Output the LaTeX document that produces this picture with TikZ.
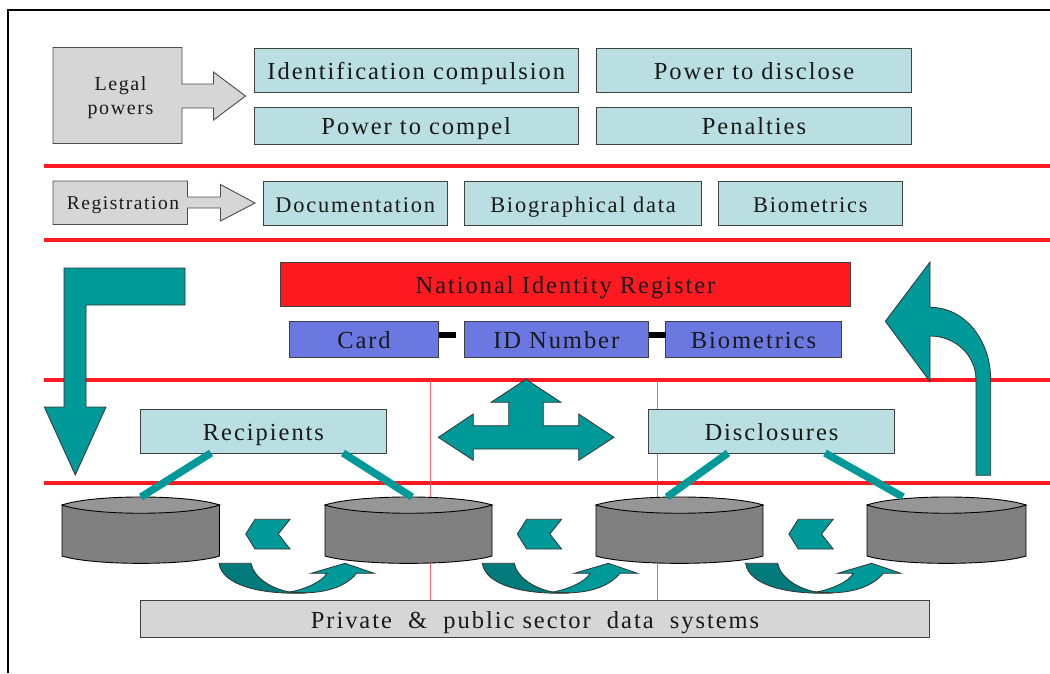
\documentclass[tikz,border=0pt]{standalone}
\usepackage{fontspec}
\setmainfont[LetterSpace=8]{Liberation Serif}
\definecolor{boxteal}{HTML}{B9DFE3}
\definecolor{arrowteal}{HTML}{009999}
\definecolor{darkteal}{HTML}{007A7A}
\definecolor{paleGray}{HTML}{D6D6D6}
\definecolor{regRed}{HTML}{FF1A22}
\definecolor{cardBlue}{HTML}{6B78E2}
\tikzset{
  lbl/.style={draw=black!75,line width=0.9pt,inner sep=0pt,outer sep=0pt,font=\fontsize{24.5}{24.5}\selectfont,
    text=black!90,text height=18pt,text depth=0pt},
  tealbox/.style={lbl,fill=boxteal},
  cardbox/.style={lbl,fill=cardBlue},
  graybox/.style={lbl,fill=paleGray},
  redrule/.style={regRed,line width=3.6pt},
  thinrule/.style={regRed!70,line width=0.9pt},
  tealshape/.style={fill=arrowteal,draw=black!80,line width=0.8pt,line join=miter},
  grayshape/.style={fill=paleGray,draw=black!70,line width=0.9pt},
  spoke/.style={arrowteal,line width=7.5pt},
  link/.style={black,line width=5.5pt},
}
\newcommand{\tbox}[7]{\node[#1,minimum width=#5pt-#3pt,minimum height=#6pt-#4pt] (#2) at ({(#3+#5)/2},{(#4+#6)/2}) {#7};}
\begin{document}
\begin{tikzpicture}[x=1pt,y=-1pt]
  \useasboundingbox (0,0) rectangle (1050,673);
  \draw[black,line width=2pt] (8,673) -- (8,10) -- (1050,10);

  \foreach \y in {166,240,380,483} {
    \draw[redrule] (44,\y) -- (1050,\y);
  }
  \foreach \x in {430,657.5} {
    \draw[thinrule] (\x,380) -- (\x,600);
  }

  % legal powers
  \draw[grayshape] (53,47.5) -- (182,47.5) -- (182,84) -- (213.5,84) -- (213.5,72) -- (245.5,96)
    -- (213.5,120) -- (213.5,108) -- (182,108) -- (182,143.5) -- (53,143.5) -- cycle;
  \node[font=\fontsize{20}{24}\selectfont,align=center,text=black!90] (legal) at (120.5,98) {Legal\\powers};
  \tbox{tealbox}{compulsion}{254}{48}{578.5}{92.5}{Identification compulsion}
  \tbox{tealbox}{compel}{254}{107}{578.5}{144}{Power to compel}
  \tbox{tealbox}{disclose}{596.5}{48}{911.5}{92.5}{Power to disclose}
  \tbox{tealbox}{penalties}{596.5}{107}{911.5}{144}{Penalties}

  % registration
  \draw[grayshape] (53,181) -- (187.5,181) -- (187.5,197) -- (220.5,197) -- (220.5,184.5) -- (255,203)
    -- (220.5,221) -- (220.5,208) -- (187.5,208) -- (187.5,224.5) -- (53,224.5) -- cycle;
  \node[font=\fontsize{19.5}{20}\selectfont,text=black!90] (registration) at (123,205.5) {Registration};
  \tbox{tealbox,font=\fontsize{22.4}{22.4}\selectfont}{documentation}{263}{181}{447.5}{225}{Documentation}
  \tbox{tealbox,font=\fontsize{22.4}{22.4}\selectfont}{biodata}{464.5}{181}{701.5}{225}{Biographical data}
  \tbox{tealbox,font=\fontsize{22.4}{22.4}\selectfont}{biometricsA}{718}{181}{902.5}{225}{Biometrics}

  % register
  \tbox{lbl,fill=regRed}{register}{280.5}{262}{850.5}{306}{National Identity Register}
  \tbox{cardbox}{card}{289.5}{321}{438.5}{357.5}{Card}
  \tbox{cardbox}{idnumber}{464}{321}{648.5}{357.5}{ID Number\hspace{7pt}}
  \tbox{cardbox}{biometricsB}{665.5}{321}{841.5}{357.5}{Biometrics}
  \coordinate (linkA) at (456,335);
  \draw[link] (card.east |- linkA) -- (linkA);
  \draw[link] (idnumber.east |- linkA) -- (biometricsB.west |- linkA);

  % big arrows
  \draw[tealshape] (64,268) -- (185,268) -- (185,305) -- (86,305) -- (86,407) -- (106,407) -- (75.3,475)
    -- (44.3,407) -- (64,407) -- cycle;
  \draw[tealshape] (976,475.3) -- (990.7,475.3) -- (990.7,380) .. controls (990.7,340) and (965,307.3) .. (930,307.3)
    -- (930,262) -- (885.3,321.3) -- (930,381.7) -- (930,336) .. controls (955,336) and (976,355) .. (976,380) -- cycle;
  \draw[tealshape] (526,379.3) -- (561,402.3) -- (543.3,402.3) -- (543.3,425.7) -- (578.7,425.7) -- (578.7,414)
    -- (614,437.3) -- (578.7,460.3) -- (578.7,449) -- (473.3,449) -- (473.3,460.3) -- (438.3,437.3)
    -- (473.3,414) -- (473.3,425.7) -- (508.7,425.7) -- (508.7,402.3) -- (491,402.3) -- cycle;

  \tbox{tealbox}{recipients}{140.5}{409}{386.5}{453}{Recipients}
  \tbox{tealbox}{disclosures}{648.5}{409}{894.5}{453}{Disclosures}

  % data systems
  \foreach \n/\x/\w in {1/62/157.5,2/325/167,3/596/167,4/867/159} {
    \draw[black,line width=0.9pt,fill=black!50] (\x,505) -- (\x,556) .. controls ({\x+.2*\w},565.8) and ({\x+.8*\w},565.8) .. ({\x+\w},556)
      -- ({\x+\w},505) -- cycle;
    \draw[black,line width=0.9pt,fill=black!41] (\x,505) .. controls ({\x+.2*\w},494.3) and ({\x+.8*\w},494.3) .. ({\x+\w},505)
      .. controls ({\x+.8*\w},516) and ({\x+.2*\w},516) .. cycle;
    \node[inner sep=0pt,outer sep=0pt,minimum width=\w pt,minimum height=66pt] (db\n) at ({\x+\w/2},530) {};
  }
  \coordinate (endA) at (db1.north -| 141,0);
  \coordinate (endB) at (db2.north -| 412,0);
  \coordinate (endC) at (db3.north -| 667,0);
  \coordinate (endD) at (db4.north -| 903,0);
  \draw[spoke] (recipients.south -| 211,0) -- (endA);
  \draw[spoke] (recipients.south -| 343,0) -- (endB);
  \draw[spoke] (disclosures.south -| 728,0) -- (endC);
  \draw[spoke] (disclosures.south -| 825,0) -- (endD);

  \foreach \s in {0,271.6,543.2} {
    \begin{scope}[shift={(\s,0)}]
      \draw[tealshape] (245.7,534) -- (255,519.3) -- (290,519.3) -- (278.3,534) -- (290,549) -- (255,549) -- cycle;
    \end{scope}
  }
  \foreach \s in {0,263.3,526.6} {
    \begin{scope}[shift={(\s,0)}]
      \draw[tealshape] (290,592) .. controls (305,594) and (340,594) .. (356.7,573.3) -- (374.3,573.3) -- (345,563.3)
        -- (311,573.3) -- (326.7,573.3) .. controls (322,582) and (305,589) .. (290,592) -- cycle;
      \draw[tealshape,fill=darkteal] (219,563.3) -- (251,563.3) .. controls (254,578) and (272,589) .. (290,592)
        -- (306.7,593) .. controls (260,595) and (222,585) .. (219,563.3) -- cycle;
    \end{scope}
  }

  \tbox{graybox}{private}{140.5}{600.5}{929.5}{637.5}{Private\ \ \&\ \ public sector\ \ data\ \ systems}
\end{tikzpicture}
\end{document}
